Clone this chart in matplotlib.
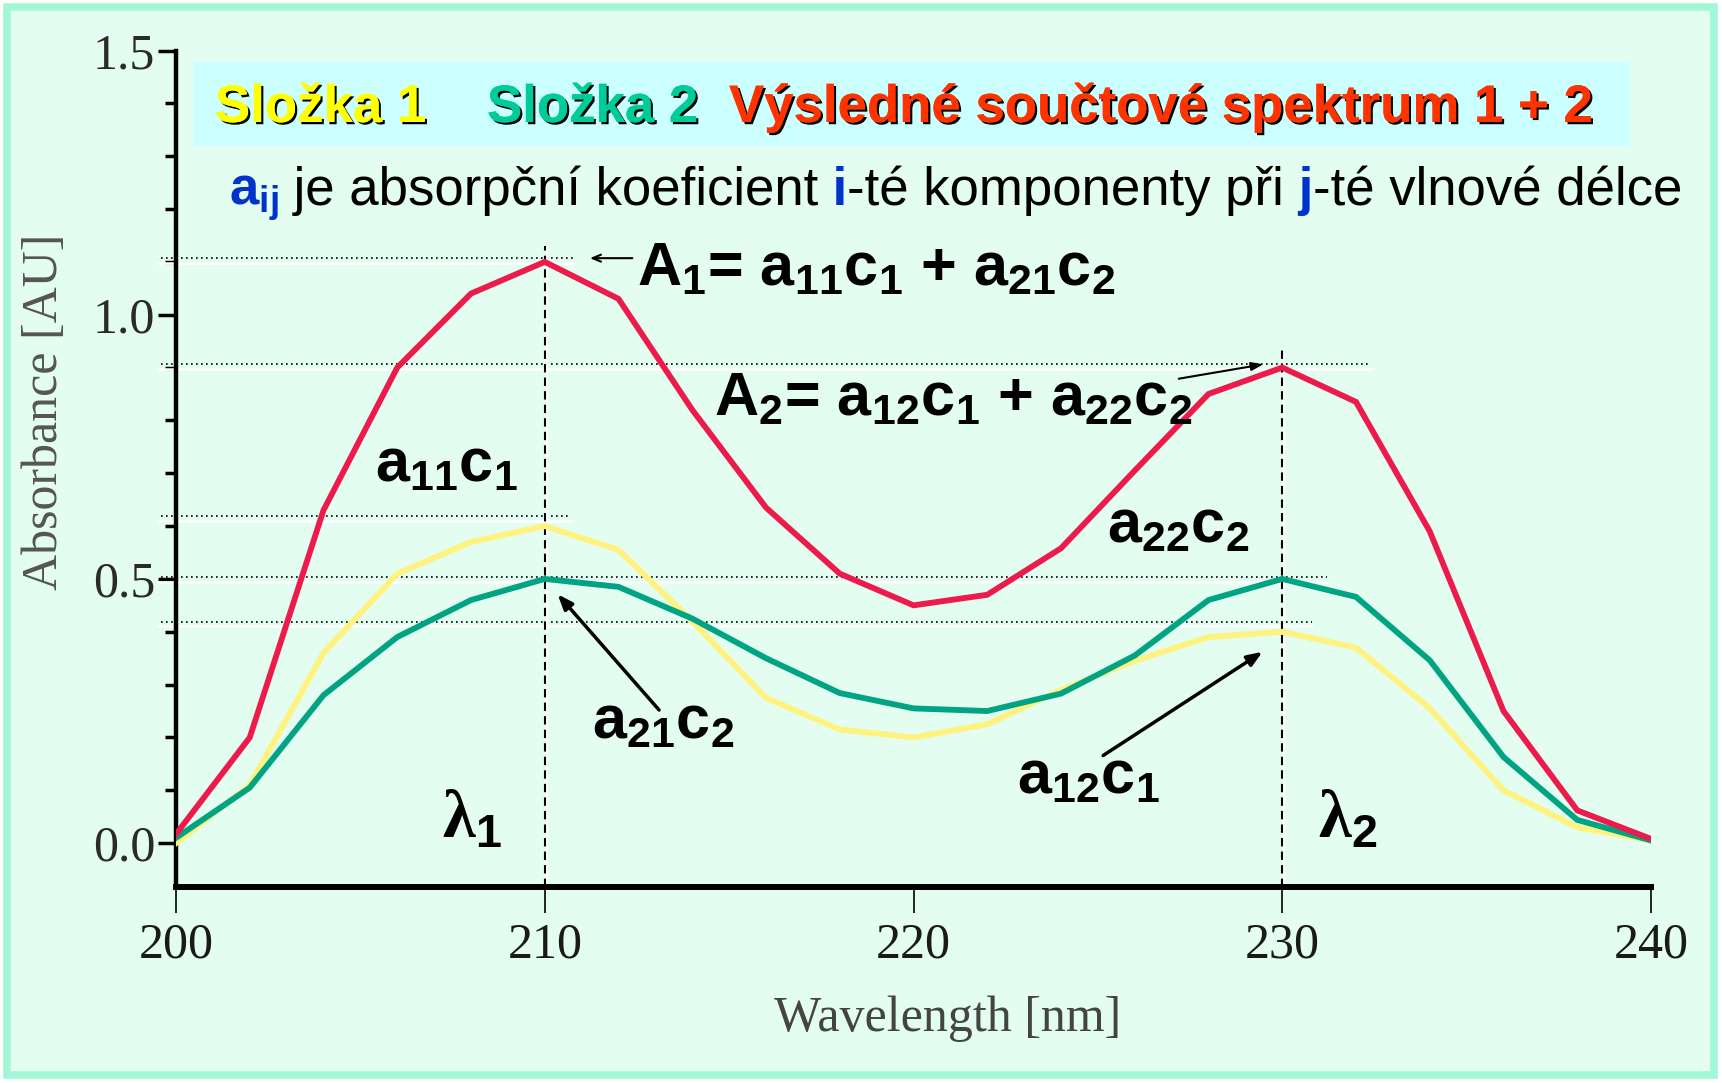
import matplotlib
matplotlib.use('agg')
import matplotlib.pyplot as plt
import matplotlib.patheffects as pe
from matplotlib.patches import Rectangle
from matplotlib.ticker import MultipleLocator

plt.rcParams['mathtext.fontset'] = 'custom'
plt.rcParams['mathtext.rm'] = 'Liberation Sans:bold'
plt.rcParams['mathtext.bf'] = 'Liberation Sans:bold'
plt.rcParams['mathtext.it'] = 'Liberation Sans:bold'
plt.rcParams['mathtext.default'] = 'bf'

# wavelengths [nm] and absorbances
wavelength = [200, 202, 204, 206, 208, 210, 212, 214, 216, 218, 220,
              222, 224, 226, 228, 230, 232, 234, 236, 238, 240]
slozka1 = [0.00, 0.11, 0.36, 0.51, 0.57, 0.60, 0.555, 0.42, 0.275, 0.215, 0.20,
           0.225, 0.29, 0.345, 0.39, 0.40, 0.37, 0.255, 0.10, 0.03, 0.005]
slozka2 = [0.01, 0.105, 0.28, 0.39, 0.46, 0.50, 0.485, 0.425, 0.35, 0.284, 0.255,
           0.25, 0.283, 0.355, 0.46, 0.50, 0.466, 0.346, 0.163, 0.044, 0.005]
soucet = [0.017, 0.20, 0.63, 0.90, 1.04, 1.10, 1.03, 0.82, 0.635, 0.51, 0.45,
          0.47, 0.558, 0.705, 0.85, 0.90, 0.835, 0.59, 0.25, 0.062, 0.008]

x_ticks = [200, 210, 220, 230, 240]
y_ticks = [0.0, 0.5, 1.0, 1.5]
y_tick_labels = ['0.0', '0.5', '1.0', '1.5']
lambdas = [210, 230]
lambda_tops = [1.13, 0.933]
guide_levels = [1.107, 0.907, 0.619, 0.504, 0.419]
guide_ends = [210.8, 232.4, 210.7, 231.2, 230.8]

W, H = 1722, 1083
fig = plt.figure(figsize=(W / 100, H / 100), dpi=100, facecolor='white')

# light green page with border
fig.patches.append(Rectangle((7 / W, 8 / H), 1707 / W, 1068 / H, transform=fig.transFigure,
                             facecolor='#E3FDF0', edgecolor='#A2F8D6', linewidth=5.5, zorder=-2))
# cyan box behind the legend line
fig.patches.append(Rectangle((193 / W, 937 / H), 1437 / W, 84 / H, transform=fig.transFigure,
                             facecolor='#CCFFFF', edgecolor='none', zorder=-1))

ax = fig.add_axes([176 / W, 196 / H, 1475 / W, (1032.5 - 196) / H])
ax.set_facecolor('none')
ax.set_xlim(200, 240)
ax.set_ylim(-0.083, 1.5)
for s in ['top', 'right']:
    ax.spines[s].set_visible(False)
ax.spines['left'].set_linewidth(3.2)
ax.spines['bottom'].set_linewidth(4.3)

ax.set_xticks(x_ticks)
ax.set_yticks(y_ticks)
ax.set_yticklabels(y_tick_labels)
ax.yaxis.set_minor_locator(MultipleLocator(0.1))
ax.tick_params(axis='y', which='major', length=13, width=2.5, pad=2,
               labelsize=36, labelcolor='#2a2a2a')
ax.tick_params(axis='y', which='minor', length=8, width=2.5)
ax.tick_params(axis='x', which='major', length=19, width=1.2, pad=6,
               labelsize=36, labelcolor='#1a1a1a')
for lab in ax.get_xticklabels() + ax.get_yticklabels():
    lab.set_fontfamily('Liberation Serif')

# guide lines
for lev, xe in zip(guide_levels, guide_ends):
    ax.plot([199.5, xe], [lev - 0.009, lev - 0.009], color='white', lw=1.8, zorder=2, clip_on=False)
    ax.plot([199.6, xe], [lev, lev], color='black', lw=1.2, linestyle=(0, (1, 2)), zorder=2, clip_on=False)
for lx, top in zip(lambdas, lambda_tops):
    ax.plot([lx + 0.06, lx + 0.06], [-0.083, top], color='white', lw=1.5, zorder=2)
    ax.plot([lx, lx], [-0.083, top], color='black', lw=1.5, dashes=(4, 2.5), zorder=2)

ax.plot(wavelength, slozka1, color='#FFF27E', lw=4.2, zorder=3, solid_joinstyle='miter')
ax.plot(wavelength, slozka2, color='#00A382', lw=4.2, zorder=4, solid_joinstyle='miter')
ax.plot(wavelength, soucet, color='#EC1B4B', lw=4.2, zorder=5, solid_joinstyle='miter')

big = dict(fontsize=44, fontweight='bold', family='Liberation Sans', color='black', va='baseline', zorder=6)
ax.text(212.5, 1.056, 'A$_1$= a$_{11}$c$_1$ + a$_{21}$c$_2$', **big)
ax.text(214.6, 0.81, 'A$_2$= a$_{12}$c$_1$ + a$_{22}$c$_2$', **big)
ax.text(205.4, 0.684, 'a$_{11}$c$_1$', **big)
ax.text(225.24, 0.570, 'a$_{22}$c$_2$', **big)
ax.text(211.28, 0.199, 'a$_{21}$c$_2$', **big)
ax.text(222.8, 0.095, 'a$_{12}$c$_1$', **big)
lam = dict(big)
lam['family'] = 'Liberation Serif'
lam['fontsize'] = 48
ax.text(207.2, 0.011, 'λ$_1$', **lam)
ax.text(230.97, 0.011, 'λ$_2$', **lam)

ax.annotate('', xy=(211.15, 1.107), xytext=(212.45, 1.107),
            arrowprops=dict(arrowstyle='->,head_length=0.6,head_width=0.25', color='black', lw=1.5))
ax.annotate('', xy=(229.56, 0.907), xytext=(227.12, 0.878),
            arrowprops=dict(arrowstyle='-|>,head_length=0.7,head_width=0.25', color='black', lw=1.5))
ax.annotate('', xy=(210.3, 0.475), xytext=(213.15, 0.248),
            arrowprops=dict(arrowstyle='-|>,head_length=0.9,head_width=0.35', color='black', lw=2.5))
ax.annotate('', xy=(229.53, 0.365), xytext=(225.08, 0.163),
            arrowprops=dict(arrowstyle='-|>,head_length=0.9,head_width=0.35', color='black', lw=2.5))

# axis titles
fig.text(948 / W, (H - 1019) / H, 'Wavelength [nm]', family='Liberation Serif', fontsize=36,
         color='#444444', ha='center', va='center')
fig.text(45 / W, (H - 412) / H, 'Absorbance [AU]', family='Liberation Serif', fontsize=36,
         color='#555555', ha='center', va='center', rotation=90)

# legend line with shadowed text
shadow = [pe.withSimplePatchShadow(offset=(1.6, -1.6), shadow_rgbFace='black', alpha=1.0), pe.Normal()]
title_parts = [('Složka 1', '#FFFF00', 215), ('Složka 2', '#00CC99', 487),
               ('Výsledné součtové spektrum 1 + 2', '#FF3300', 729)]
for txt, col, xl in title_parts:
    fig.text(xl / W, (H - 122) / H, txt, family='Liberation Sans', fontweight='bold', fontsize=38,
             color=col, va='baseline', path_effects=shadow, zorder=3)

# explanation line, pieces in two colours
renderer = fig.canvas.get_renderer()
pieces = [('a$_{ij}$', '#0033CC', 'bold'), (' je absorpční koeficient', 'black', 'normal'),
          (' i', '#0033CC', 'bold'), ('-té komponenty při', 'black', 'normal'),
          (' j', '#0033CC', 'bold'), ('-té vlnové délce', 'black', 'normal')]
xpos = 229
for txt, col, w in pieces:
    t = fig.text(xpos / W, (H - 205) / H, txt, family='Liberation Sans', fontweight=w, fontsize=38,
                 color=col, va='baseline', zorder=3)
    xpos = t.get_window_extent(renderer).x1

fig.savefig('out.png', dpi=100, facecolor='white')
